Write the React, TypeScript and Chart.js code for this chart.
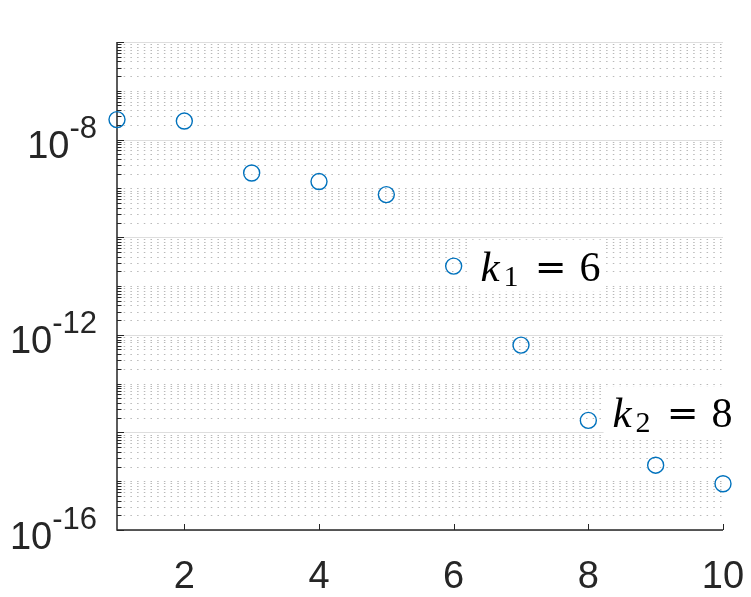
import React, { useEffect, useRef } from "react";
import { Chart, registerables } from "chart.js";

Chart.register(...registerables);

// ---- data ----
const xValues = [1, 2, 3, 4, 5, 6, 7, 8, 9, 10];
const yValues = [2.57e-8, 2.4e-8, 2.07e-9, 1.38e-9, 7.46e-10, 2.56e-11, 6.15e-13, 1.76e-14, 2.13e-15, 8.87e-16];
const xTickValues = [2, 4, 6, 8, 10];
const yLabelExponents = [-16, -12, -8];
const yMajorExponents = [-16, -14, -12, -10, -8, -6];
const xRange = [1, 10];
const yExpRange = [-16, -6];
const annotationTexts = [
  { main: "k", sub: "1", rhs: "6", x: 6.4, y: 2.6e-11 },
  { main: "k", sub: "2", rhs: "8", x: 8.36, y: 2.6e-14 },
];

const AXIS = "#262626";
const SERIF = "'Liberation Serif', serif";

const matlabPlugin = {
  id: "matlabAxes",
  beforeDatasetsDraw(chart: any) {
    const { ctx, chartArea: a, scales } = chart;
    const xs = scales.x;
    const ys = scales.y;
    ctx.save();

    // minor dotted grid
    ctx.lineWidth = 1;
    ctx.strokeStyle = "rgba(38,38,38,0.32)";
    ctx.setLineDash([1.5, 5.2]);
    for (let e = yExpRange[0]; e < yExpRange[1]; e++) {
      for (let m = 1; m <= 9; m++) {
        if (m === 1 && yMajorExponents.includes(e)) continue;
        const v = m * Math.pow(10, e);
        const py = Math.round(ys.getPixelForValue(v)) + 0.5;
        ctx.beginPath();
        ctx.moveTo(a.left, py);
        ctx.lineTo(a.right, py);
        ctx.stroke();
      }
    }
    ctx.setLineDash([]);

    // major solid grid
    ctx.strokeStyle = "#dedede";
    ctx.lineWidth = 1.2;
    for (const e of yMajorExponents) {
      const py = Math.round(ys.getPixelForValue(Math.pow(10, e))) + 0.5;
      ctx.beginPath();
      ctx.moveTo(a.left, py);
      ctx.lineTo(a.right, py);
      ctx.stroke();
    }

    // annotations with white background
    for (const an of annotationTexts) {
      const tx = xs.getPixelForValue(an.x);
      const ty = ys.getPixelForValue(an.y);
      ctx.fillStyle = "#ffffff";
      ctx.fillRect(tx - 9, ty - 26, 130, 52);
      ctx.fillStyle = "#000000";
      ctx.textAlign = "left";
      ctx.textBaseline = "alphabetic";
      const base = ty + 15;
      ctx.font = "italic 43px " + SERIF;
      ctx.fillText(an.main, tx, base);
      ctx.font = "30px " + SERIF;
      ctx.fillText(an.sub, tx + 23, base + 5);
      ctx.font = "38px 'DejaVu Serif', serif";
      ctx.textAlign = "center";
      ctx.fillText("=", tx + 70, base - 1);
      ctx.textAlign = "left";
      ctx.font = "42px " + SERIF;
      ctx.fillText(an.rhs, tx + 99, base);
    }

    // axes lines
    ctx.strokeStyle = AXIS;
    ctx.lineWidth = 1.5;
    ctx.beginPath();
    ctx.moveTo(a.left, a.top);
    ctx.lineTo(a.left, a.bottom);
    ctx.lineTo(a.right, a.bottom);
    ctx.stroke();

    // y ticks
    ctx.lineWidth = 1;
    for (let e = yExpRange[0]; e <= yExpRange[1]; e++) {
      for (let m = 1; m <= 9; m++) {
        if (e === yExpRange[1] && m > 1) break;
        const v = m * Math.pow(10, e);
        const py = Math.round(ys.getPixelForValue(v)) + 0.5;
        const len = m === 1 && yMajorExponents.includes(e) ? 7 : 4.5;
        ctx.beginPath();
        ctx.moveTo(a.left, py);
        ctx.lineTo(a.left + len, py);
        ctx.stroke();
      }
    }
    // x ticks
    for (const xv of xTickValues) {
      const px = Math.round(xs.getPixelForValue(xv)) + 0.5;
      ctx.beginPath();
      ctx.moveTo(px, a.bottom);
      ctx.lineTo(px, a.bottom - 6);
      ctx.stroke();
    }

    // x labels
    ctx.fillStyle = AXIS;
    ctx.textAlign = "center";
    ctx.textBaseline = "alphabetic";
    ctx.font = "38px 'Liberation Sans', Arial, sans-serif";
    for (const xv of xTickValues) {
      ctx.fillText(String(xv), xs.getPixelForValue(xv), a.bottom + 57.5);
    }

    // y labels 10^e
    ctx.textAlign = "left";
    for (const e of yLabelExponents) {
      const py = ys.getPixelForValue(Math.pow(10, e));
      const baseTxt = "10";
      const supTxt = "-" + String(Math.abs(e));
      ctx.font = "38px 'Liberation Sans', Arial, sans-serif";
      const wb = ctx.measureText(baseTxt).width;
      ctx.font = "31px 'Liberation Sans', Arial, sans-serif";
      const ws = ctx.measureText(supTxt).width;
      const right = a.left - 20;
      const left = right - wb - ws;
      ctx.font = "38px 'Liberation Sans', Arial, sans-serif";
      ctx.fillText(baseTxt, left, py + 18.5);
      ctx.font = "31px 'Liberation Sans', Arial, sans-serif";
      ctx.fillText(supTxt, left + wb, py - 1.5);
    }

    ctx.restore();
  },
};

export default function App() {
  const ref = useRef<HTMLCanvasElement>(null);
  useEffect(() => {
    if (!ref.current) return;
    const chart = new Chart(ref.current, {
      type: "scatter",
      data: {
        datasets: [
          {
            data: xValues.map((x, i) => ({ x, y: yValues[i] })),
            pointStyle: "circle",
            pointRadius: 8,
            pointHoverRadius: 8,
            borderColor: "#0072BD",
            backgroundColor: "rgba(0,0,0,0)",
            borderWidth: 1.4,
            showLine: false,
            clip: false as any,
          },
        ],
      },
      options: {
        animation: false,
        responsive: false,
        devicePixelRatio: 1,
        events: [],
        layout: { padding: { left: 117, right: 28, top: 42, bottom: 67 } },
        plugins: { legend: { display: false }, tooltip: { enabled: false } },
        scales: {
          x: { type: "linear", min: xRange[0], max: xRange[1], display: false },
          y: {
            type: "logarithmic",
            min: Math.pow(10, yExpRange[0]),
            max: Math.pow(10, yExpRange[1]),
            display: false,
          },
        },
      },
      plugins: [matlabPlugin],
    });
    return () => chart.destroy();
  }, []);
  return (
    <div style={{ position: "absolute", left: 0, top: 0, width: 751, height: 597, background: "#fff" }}>
      <canvas ref={ref} width={751} height={597} />
    </div>
  );
}
